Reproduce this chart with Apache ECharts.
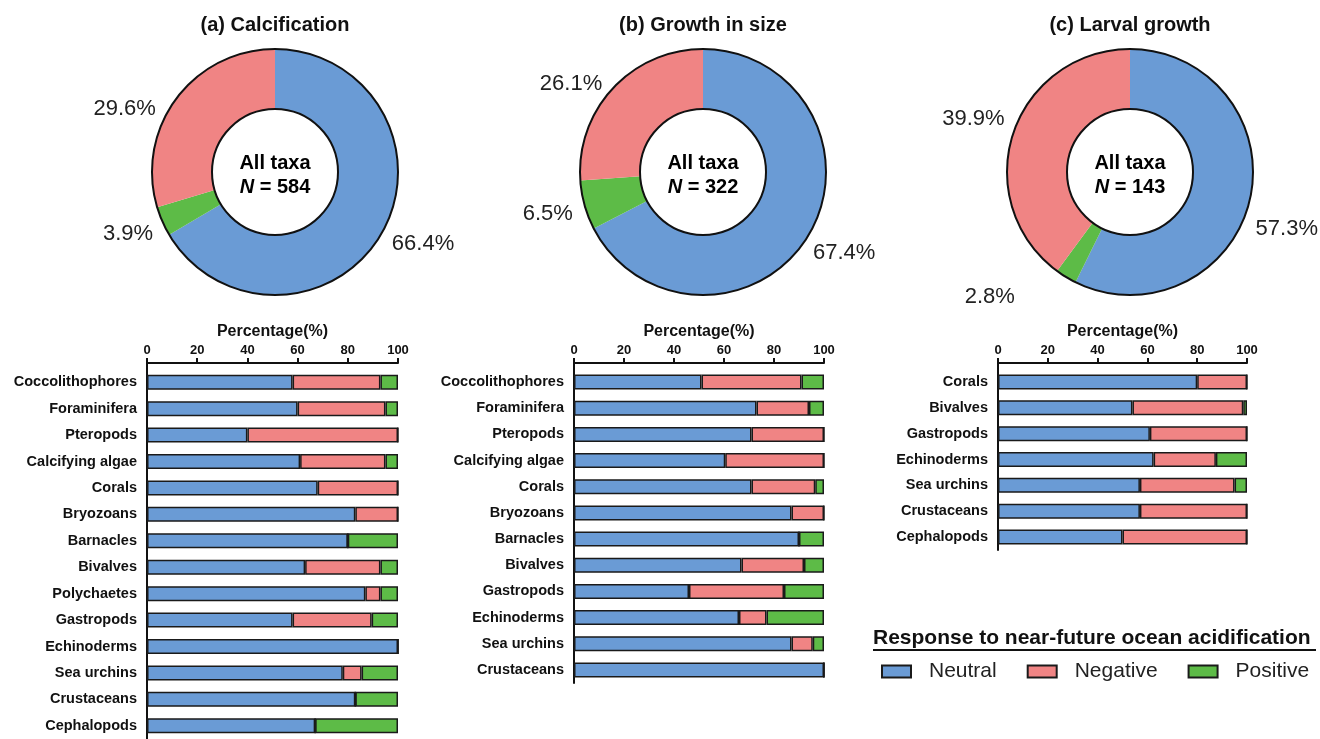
<!DOCTYPE html>
<html>
<head>
<meta charset="utf-8">
<title>Response to near-future ocean acidification</title>
<script src="https://cdn.jsdelivr.net/npm/echarts@6/dist/echarts.min.js"></script>
<style>
  html, body { margin: 0; padding: 0; background: #fff; }
  #main { width: 1320px; height: 739px; }
</style>
</head>
<body>
<div id="main"></div>
<script>
// --- data ---
const responseNames = ["Neutral", "Negative", "Positive"];

// donut percentages, order: Neutral, Positive, Negative (clockwise from top)
const pieCalcification = [66.4, 3.9, 29.6];
const pieGrowth = [67.4, 6.5, 26.1];
const pieLarval = [57.3, 2.8, 39.9];
const pieN = [584, 322, 143];

// (a) calcification
const calcTaxa = ["Coccolithophores", "Foraminifera", "Pteropods", "Calcifying algae", "Corals", "Bryozoans",
  "Barnacles", "Bivalves", "Polychaetes", "Gastropods", "Echinoderms", "Sea urchins", "Crustaceans", "Cephalopods"];
const calcNeutral = [58, 60, 40, 61, 68, 83, 80, 63, 87, 58, 100, 78, 83, 67];
const calcNegative = [35, 35, 60, 34, 32, 17, 0, 30, 6, 31.5, 0, 7.5, 0, 0];
const calcPositive = [7, 5, 0, 5, 0, 0, 20, 7, 7, 10.5, 0, 14.5, 17, 33];

// (b) growth in size
const growthTaxa = ["Coccolithophores", "Foraminifera", "Pteropods", "Calcifying algae", "Corals", "Bryozoans",
  "Barnacles", "Bivalves", "Gastropods", "Echinoderms", "Sea urchins", "Crustaceans"];
const growthNeutral = [51, 73, 71, 60.5, 71, 87, 90, 67, 46, 66, 87, 100];
const growthNegative = [40, 21, 29, 39.5, 25.5, 13, 0, 25, 38, 11, 8.5, 0];
const growthPositive = [9, 6, 0, 0, 3.5, 0, 10, 8, 16, 23, 4.5, 0];

// (c) larval growth
const larvalTaxa = ["Corals", "Bivalves", "Gastropods", "Echinoderms", "Sea urchins", "Crustaceans", "Cephalopods"];
const larvalNeutral = [80, 54, 61, 62.5, 57, 57, 50];
const larvalNegative = [20, 44.5, 39, 25, 38, 43, 50];
const larvalPositive = [0, 1.5, 0, 12.5, 5, 0, 0];

// --- styling ---
const FONT = "'Liberation Sans', Arial, sans-serif";
const colors = { Neutral: "#6a9bd5", Negative: "#f08484", Positive: "#5dbb47" };
const ink = "#111";

// small hand nudges for the percentage labels (the original places them freely)
const labelNudgeA = [[-2, 7], [3, 9], [-9, 15]];
const labelNudgeB = [[-7, 13], [1, 7], [0, 1]];
const labelNudgeC = [[-7, 27], [-42, 13], [4, -12]];

const chart = echarts.init(document.getElementById("main"));

// donut + black ring outline
function donut(cx, values, nudge) {
  const order = ["Neutral", "Positive", "Negative"];
  const center = [cx, 172];
  const radius = [63, 123];
  return [
    {
      type: "pie",
      center: center,
      radius: radius,
      startAngle: 90,
      clockwise: true,
      avoidLabelOverlap: false,
      emphasis: { disabled: true },
      label: {
        show: true,
        position: "outside",
        formatter: "{c}%",
        fontFamily: FONT,
        fontSize: 22,
        color: "#222",
      },
      labelLine: { show: false, length: 8, length2: 0 },
      labelLayout: (params) => ({ dx: nudge[params.dataIndex][0], dy: nudge[params.dataIndex][1] }),
      data: order.map((name, i) => ({
        name: name,
        value: values[i],
        itemStyle: { color: colors[name] },
      })),
    },
    {
      type: "pie",
      silent: true,
      center: center,
      radius: radius,
      label: { show: false },
      labelLine: { show: false },
      itemStyle: { color: "rgba(0,0,0,0)", borderColor: ink, borderWidth: 2 },
      data: [{ name: "ring", value: 1 }],
    },
  ];
}

// stacked horizontal bars for one panel
function bars(idx, neutral, negative, positive) {
  const vals = [neutral, negative, positive];
  return responseNames.map((name, i) => ({
    type: "bar",
    name: name,
    xAxisIndex: idx,
    yAxisIndex: idx,
    stack: "panel" + idx,
    barWidth: 15,
    emphasis: { disabled: true },
    itemStyle: { color: colors[name], borderColor: "#1a1a1a", borderWidth: 1.5 },
    data: vals[i],
  }));
}

function xAxisFor(idx) {
  return {
    gridIndex: idx,
    type: "value",
    position: "top",
    offset: 6,
    min: 0,
    max: 100,
    interval: 20,
    name: "Percentage(%)",
    nameLocation: "middle",
    nameGap: 23,
    nameTextStyle: { fontFamily: FONT, fontWeight: "bold", fontSize: 16, color: ink },
    axisLine: { show: true, lineStyle: { color: ink, width: 2 } },
    axisTick: { show: true, length: 5, lineStyle: { color: ink, width: 2 } },
    axisLabel: { fontFamily: FONT, fontWeight: "bold", fontSize: 13, color: ink, margin: 6 },
    splitLine: { show: false },
  };
}

function yAxisFor(idx, taxa) {
  return {
    gridIndex: idx,
    type: "category",
    inverse: true,
    data: taxa,
    axisLine: { show: true, lineStyle: { color: ink, width: 2 } },
    axisTick: { show: false },
    axisLabel: { fontFamily: FONT, fontWeight: "bold", fontSize: 14.5, color: ink, margin: 10 },
  };
}

function centerText(cx, n) {
  return {
    type: "text",
    x: cx,
    y: 175,
    style: {
      text: "{b|All taxa}\n{i|N}{b| = " + n + "}",
      align: "center",
      verticalAlign: "middle",
      rich: {
        b: { fontFamily: FONT, fontWeight: "bold", fontSize: 20, color: ink, lineHeight: 24 },
        i: { fontFamily: FONT, fontWeight: "bold", fontStyle: "italic", fontSize: 20, color: ink, lineHeight: 24 },
      },
    },
  };
}

function panelTitle(cx, text) {
  return {
    type: "text",
    x: cx,
    y: 25,
    style: {
      text: text,
      align: "center",
      verticalAlign: "middle",
      font: "bold 20px " + FONT,
      fill: ink,
    },
  };
}

// the y axis line joins the offset x axis line
function axisJoin(x) {
  return {
    type: "line",
    shape: { x1: x, y1: 362, x2: x, y2: 370 },
    style: { stroke: ink, lineWidth: 2 },
  };
}

const option = {
  backgroundColor: "#fff",
  animation: false,
  textStyle: { fontFamily: FONT },
  grid: [
    { left: 147, top: 369, width: 251, height: 370 },
    { left: 574, top: 369, width: 250, height: 314 },
    { left: 998, top: 369, width: 249, height: 181 },
  ],
  xAxis: [xAxisFor(0), xAxisFor(1), xAxisFor(2)],
  yAxis: [yAxisFor(0, calcTaxa), yAxisFor(1, growthTaxa), yAxisFor(2, larvalTaxa)],
  legend: {
    data: responseNames,
    left: 876,
    top: 656,
    icon: "rect",
    itemWidth: 29,
    itemHeight: 12,
    itemGap: 30,
    selectedMode: false,
    textStyle: { fontFamily: FONT, fontSize: 21, color: "#222", padding: [0, 0, 0, 13] },
  },
  graphic: [
    panelTitle(275, "(a) Calcification"),
    panelTitle(703, "(b) Growth in size"),
    panelTitle(1130, "(c) Larval growth"),
    centerText(275, pieN[0]),
    centerText(703, pieN[1]),
    centerText(1130, pieN[2]),
    axisJoin(147),
    axisJoin(574),
    axisJoin(998),
    {
      type: "text",
      x: 873,
      y: 638,
      style: {
        text: "Response to near-future ocean acidification",
        align: "left",
        verticalAlign: "middle",
        font: "bold 21px " + FONT,
        fill: ink,
      },
    },
    {
      type: "line",
      shape: { x1: 873, y1: 650, x2: 1316, y2: 650 },
      style: { stroke: ink, lineWidth: 2 },
    },
  ],
  series: [
    ...donut(275, pieCalcification, labelNudgeA),
    ...donut(703, pieGrowth, labelNudgeB),
    ...donut(1130, pieLarval, labelNudgeC),
    ...bars(0, calcNeutral, calcNegative, calcPositive),
    ...bars(1, growthNeutral, growthNegative, growthPositive),
    ...bars(2, larvalNeutral, larvalNegative, larvalPositive),
  ],
};

chart.setOption(option);
</script>
</body>
</html>
